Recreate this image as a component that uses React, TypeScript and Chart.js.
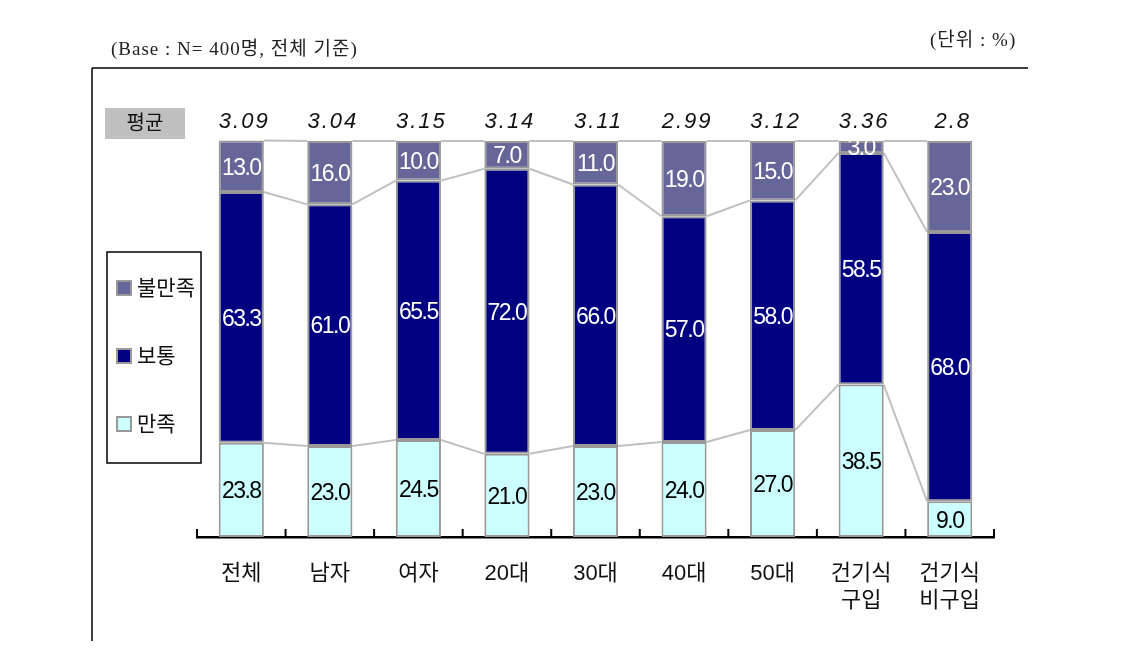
import React, { useEffect, useRef } from "react";
import { Chart, registerables } from "chart.js";

Chart.register(...registerables);

const categories: (string | string[])[] = [
  "전체", "남자", "여자", "20대", "30대", "40대", "50대", ["건기식", "구입"], ["건기식", "비구입"],
];
const satisfied = [23.8, 23.0, 24.5, 21.0, 23.0, 24.0, 27.0, 38.5, 9.0];
const neutral = [63.3, 61.0, 65.5, 72.0, 66.0, 57.0, 58.0, 58.5, 68.0];
const dissatisfied = [13.0, 16.0, 10.0, 7.0, 11.0, 19.0, 15.0, 3.0, 23.0];
const averages = ["3.09", "3.04", "3.15", "3.14", "3.11", "2.99", "3.12", "3.36", "2.8"];
const seriesNames = ["만족", "보통", "불만족"];
const seriesColors = ["#CCFFFF", "#000080", "#666699"];
const labelColors = ["#000000", "#ffffff", "#ffffff"];

const SANS = '"Liberation Sans", Arial, "Noto Sans CJK KR", sans-serif';
const SERIF = '"Liberation Serif", "DejaVu Serif", "Noto Sans CJK KR", serif';

const overlay = {
  id: "overlay",
  beforeDatasetsDraw(chart: any) {
    const ctx = chart.ctx;
    ctx.save();
    ctx.strokeStyle = "#c0c0c0";
    ctx.lineWidth = 2;
    for (let d = 0; d < chart.data.datasets.length; d++) {
      const els = chart.getDatasetMeta(d).data;
      for (let i = 0; i < els.length - 1; i++) {
        const a = els[i];
        const b = els[i + 1];
        ctx.beginPath();
        ctx.moveTo(a.x + a.width / 2, a.y);
        ctx.lineTo(b.x - b.width / 2, b.y);
        ctx.stroke();
      }
    }
    ctx.restore();
  },
  afterDatasetsDraw(chart: any) {
    const ctx = chart.ctx;
    ctx.save();
    ctx.font = `23px ${SANS}`;
    (ctx as any).letterSpacing = "-1.5px";
    ctx.textAlign = "center";
    ctx.textBaseline = "middle";
    chart.data.datasets.forEach((ds: any, d: number) => {
      const els = chart.getDatasetMeta(d).data;
      els.forEach((el: any, i: number) => {
        const v = ds.data[i] as number;
        ctx.fillStyle = labelColors[d];
        ctx.fillText(v.toFixed(1), el.x, (el.y + el.base) / 2 + 2);
      });
    });
    ctx.restore();
  },
  afterDraw(chart: any) {
    const ctx = chart.ctx;
    const xs = chart.scales.x;
    const area = chart.chartArea;
    ctx.save();
    // frame lines
    ctx.strokeStyle = "#000";
    ctx.lineWidth = 1.5;
    ctx.beginPath();
    ctx.moveTo(92, 68);
    ctx.lineTo(1028, 68);
    ctx.moveTo(92, 68);
    ctx.lineTo(92, 641);
    ctx.stroke();
    // header texts
    ctx.fillStyle = "#222";
    ctx.font = `19px ${SERIF}`;
    ctx.textBaseline = "middle";
    ctx.textAlign = "left";
    (ctx as any).letterSpacing = "1px";
    ctx.fillText("(Base : N= 400명, 전체 기준)", 111, 50);
    ctx.fillText("(단위 : %)", 930, 41);
    (ctx as any).letterSpacing = "0px";
    // 평균 box
    ctx.fillStyle = "#c0c0c0";
    ctx.fillRect(105, 108, 80, 31);
    ctx.fillStyle = "#111";
    ctx.font = `20px ${SANS}`;
    ctx.textAlign = "center";
    ctx.fillText("평균", 145, 124);
    // averages
    ctx.font = `italic 22px ${SANS}`;
    (ctx as any).letterSpacing = "2px";
    averages.forEach((a, i) => {
      ctx.fillText(a, xs.getPixelForValue(i) + 3, 122);
    });
    (ctx as any).letterSpacing = "0px";
    // tick marks (upward)
    ctx.strokeStyle = "#000";
    ctx.lineWidth = 2;
    const n = categories.length;
    for (let i = 0; i <= n; i++) {
      const x = area.left + (i * (area.right - area.left)) / n;
      ctx.beginPath();
      ctx.moveTo(x, area.bottom);
      ctx.lineTo(x, area.bottom - 8);
      ctx.stroke();
    }
    // legend box
    ctx.lineWidth = 1.5;
    ctx.strokeStyle = "#000";
    ctx.fillStyle = "#fff";
    ctx.fillRect(107, 252, 94, 211);
    ctx.strokeRect(107, 252, 94, 211);
    const legendOrder = [2, 1, 0];
    const legendY = [288, 356, 424];
    ctx.font = `21px ${SANS}`;
    ctx.textAlign = "left";
    legendOrder.forEach((d, k) => {
      const y = legendY[k];
      ctx.fillStyle = seriesColors[d];
      ctx.fillRect(117, y - 7, 14, 14);
      ctx.strokeStyle = "#999";
      ctx.lineWidth = 2;
      ctx.strokeRect(117, y - 7, 14, 14);
      ctx.fillStyle = "#111";
      ctx.fillText(seriesNames[d], 137, y + 1);
    });
    ctx.restore();
  },
};

export default function App() {
  const ref = useRef<HTMLCanvasElement>(null);
  useEffect(() => {
    if (!ref.current) return;
    const chart = new Chart(ref.current, {
      type: "bar",
      data: {
        labels: categories,
        datasets: [satisfied, neutral, dissatisfied].map((data, d) => ({
          label: seriesNames[d],
          data,
          backgroundColor: seriesColors[d],
          borderColor: "#999999",
          borderWidth: 2,
          borderSkipped: false,
          barPercentage: 0.51,
          categoryPercentage: 1,
          clip: false as any,
        })),
      },
      options: {
        responsive: false,
        animation: false,
        devicePixelRatio: 1,
        layout: { padding: { left: 197, right: 144, top: 141, bottom: 0 } },
        plugins: { legend: { display: false }, tooltip: { enabled: false } },
        scales: {
          x: {
            stacked: true,
            grid: { display: false },
            border: { display: true, color: "#000", width: 2.5 },
            ticks: {
              color: "#111",
              font: { family: SANS, size: 22, lineHeight: 1.22 },
              padding: 16,
              maxRotation: 0,
              autoSkip: false,
            },
            afterFit: (s: any) => {
              s.height = 134;
            },
          },
          y: { stacked: true, display: false, min: 0, max: 100 },
        },
      },
      plugins: [overlay],
    });
    return () => chart.destroy();
  }, []);
  return (
    <div style={{ position: "absolute", left: 0, top: 0, width: 1138, height: 671, background: "#fff" }}>
      <canvas ref={ref} width={1138} height={671} style={{ display: "block" }} />
    </div>
  );
}
